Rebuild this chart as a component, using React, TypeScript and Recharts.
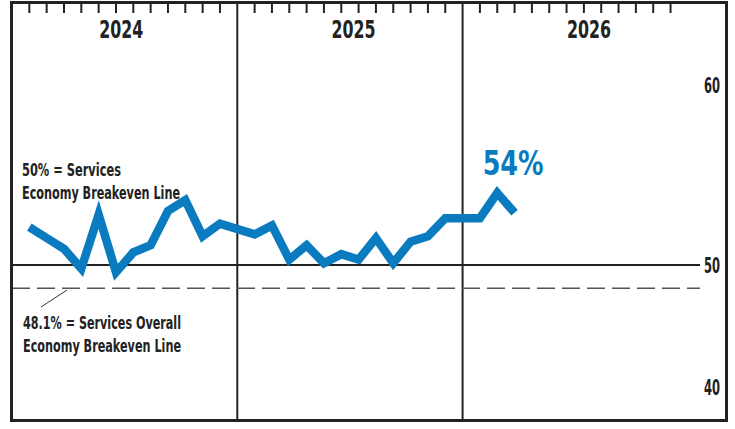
import React from 'react';
import { LineChart, Line, XAxis, YAxis, ReferenceLine, ReferenceDot } from 'recharts';

// Services PMI, monthly readings per year
const years = ['2024', '2025', '2026'];
const pmi2024 = [52.1, 51.5, 50.9, 49.8, 52.8, 49.6, 50.7, 51.1, 53.0, 53.6, 51.6, 52.3];
const pmi2025 = [51.7, 52.2, 50.3, 51.1, 50.1, 50.6, 50.3, 51.5, 50.1, 51.3, 51.6, 52.6];
const pmi2026 = [52.6, 54.0, 52.9];

const yearLabelSlots = [6.3, 19.7, 33.3];
const yearBreaks = [13, 26];
const upperTicks = [50, 60];
const lowerTick = 40;
const servicesBreakeven = 50;
const overallBreakeven = 48.1;
const latest = { slot: 28, value: 54, label: '54%' };

const SLOTS = 13; // 12 months + a break column per year
const data = [pmi2024, pmi2025, pmi2026].flatMap((vals, yi) =>
  vals.map((v, mi) => ({ slot: yi * SLOTS + mi + 1, pmi: v }))
);
const monthTicks = years.flatMap((_, yi) =>
  Array.from({ length: 12 }, (_, mi) => yi * SLOTS + mi + 1)
);

const FONT = "'DejaVu Sans Condensed', 'DejaVu Sans', sans-serif";
const BLUE = '#0a7bbf';
const INK = '#222';

// condensed bold text, squeezed to the width the original typeface takes
function CondText({ x, y, text, width, size, fill = INK, anchor = 'start' }: any) {
  return (
    <text
      x={x}
      y={y}
      fill={fill}
      fontSize={size}
      fontWeight={700}
      fontFamily={FONT}
      textAnchor={anchor}
      textLength={width}
      lengthAdjust="spacingAndGlyphs"
    >
      {text}
    </text>
  );
}

export default function App() {
  return (
    <div style={{ position: 'absolute', left: 0, top: 0, width: 735, height: 429, background: '#fff' }}>
      <LineChart
        width={735}
        height={429}
        data={data}
        margin={{ top: 4, right: 11, left: 12, bottom: 9 }}
      >
        <XAxis
          dataKey="slot"
          type="number"
          orientation="top"
          mirror
          height={1}
          domain={[0, 39.7]}
          allowDataOverflow
          ticks={monthTicks}
          interval={0}
          tick={() => <g />}
          tickSize={9}
          axisLine={false}
          tickLine={{ stroke: INK, strokeWidth: 2 }}
        />
        <YAxis
          yAxisId="upper"
          orientation="right"
          type="number"
          domain={[41.389, 64.5]}
          allowDataOverflow
          ticks={upperTicks}
          width={24}
          tickSize={2}
          tickMargin={2}
          tickLine={false}
          axisLine={false}
          tick={(p: any) => (
            <CondText x={p.x} y={p.y + 7.8} text={String(p.payload.value)} width={16} size={21.5} />
          )}
        />
        <YAxis
          yAxisId="lower"
          type="number"
          hide
          domain={[37.295, 71.393]}
          allowDataOverflow
        />

        {yearBreaks.map((x) => (
          <ReferenceLine key={x} x={x} yAxisId="upper" stroke={INK} strokeWidth={2} />
        ))}
        {years.map((y, i) => (
          <ReferenceLine
            key={y}
            x={yearLabelSlots[i]}
            yAxisId="upper"
            stroke="none"
            label={(p: any) => (
              <CondText
                x={p.viewBox.x}
                y={p.viewBox.y + 34.3}
                text={y}
                width={44}
                size={24}
                anchor="middle"
              />
            )}
          />
        ))}

        <ReferenceLine yAxisId="upper" y={servicesBreakeven} stroke={INK} strokeWidth={2} />
        <ReferenceLine
          yAxisId="lower"
          y={overallBreakeven}
          stroke="#555"
          strokeWidth={1.5}
          strokeDasharray="18 7"
        />
        <ReferenceLine
          yAxisId="lower"
          y={lowerTick}
          stroke="none"
          label={(p: any) => (
            <CondText
              x={p.viewBox.x + p.viewBox.width + 4}
              y={p.viewBox.y + 7.8}
              text={String(lowerTick)}
              width={16}
              size={21.5}
            />
          )}
        />

        <Line
          yAxisId="upper"
          type="linear"
          dataKey="pmi"
          stroke={BLUE}
          strokeWidth={8.5}
          strokeLinejoin="miter"
          dot={false}
          isAnimationActive={false}
        />
        <ReferenceDot
          yAxisId="upper"
          x={latest.slot}
          y={latest.value}
          r={0}
          fill="none"
          stroke="none"
          label={(p: any) => (
            <CondText
              x={p.viewBox.x - 14.6}
              y={p.viewBox.y - 18}
              text={latest.label}
              width={61}
              size={34}
              fill={BLUE}
            />
          )}
        />

        <CondText x={22} y={176} text="50% = Services" width={99} size={18} />
        <CondText x={22} y={199} text="Economy Breakeven Line" width={158} size={18} />
        <line x1={41} y1={307} x2={67} y2={290} stroke="#333" strokeWidth={1} />
        <CondText x={23} y={329} text="48.1% = Services Overall" width={158} size={18} />
        <CondText x={23} y={352} text="Economy Breakeven Line" width={158} size={18} />
      </LineChart>
      <div
        style={{
          position: 'absolute',
          left: 10,
          top: 1,
          width: 718,
          height: 421,
          border: `3px solid ${INK}`,
          boxSizing: 'border-box',
          pointerEvents: 'none',
        }}
      />
    </div>
  );
}
